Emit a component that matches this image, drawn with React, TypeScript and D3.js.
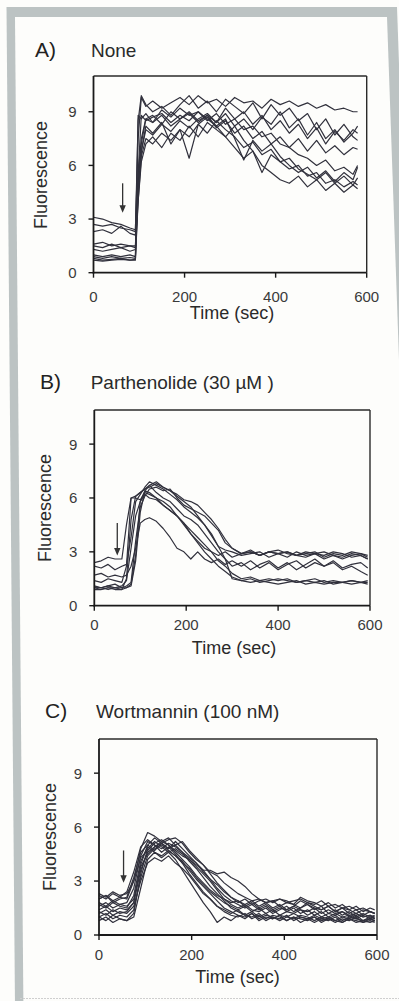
import React from "react";
import * as d3 from "d3";

// ---------- data ----------
const timesA = [0, 20, 40, 60, 80, 92, 98, 105, 115, 130, 150, 170, 190, 210, 230, 250, 270, 290, 310, 330, 350, 370, 390, 410, 430, 450, 470, 490, 510, 530, 550, 570, 580];
const tracesA = [
  [3.1, 3.0, 2.8, 2.7, 2.5, 2.4, 7.5, 9.8, 9.3, 9.6, 9.2, 9.5, 9.8, 9.4, 9.9, 9.5, 9.7, 9.3, 9.8, 9.5, 9.6, 9.2, 9.7, 9.4, 9.6, 9.3, 9.5, 9.2, 9.4, 9.1, 9.2, 9.0, 9.0],
  [2.7, 2.6, 2.7, 2.5, 2.4, 2.3, 8.5, 9.9, 9.4, 9.0, 9.3, 8.8, 9.4, 9.9, 9.2, 9.6, 9.0, 9.7, 9.3, 8.9, 9.5, 8.6, 9.4, 8.8, 9.2, 8.5, 8.9, 8.0, 8.6, 7.7, 8.3, 7.6, 7.4],
  [2.3, 2.4, 2.2, 2.6, 2.2, 2.1, 5.5, 7.5, 8.6, 8.4, 8.8, 8.2, 8.6, 9.0, 8.5, 8.8, 8.4, 8.9, 8.2, 8.6, 8.0, 8.7, 8.3, 9.0, 8.1, 8.6, 7.7, 8.4, 7.5, 8.0, 7.3, 7.8, 8.2],
  [1.6, 1.7, 1.5, 1.6, 1.5, 1.5, 5.0, 7.2, 8.6, 8.8, 8.3, 9.0, 8.6, 8.9, 8.4, 8.8, 8.1, 8.5, 7.8, 8.2, 7.5, 7.9, 7.2, 7.6, 7.0, 7.5, 6.8, 7.4, 6.7, 7.1, 6.6, 7.0, 6.9],
  [1.5, 1.4, 1.6, 1.4, 1.5, 1.4, 4.5, 6.8, 8.2, 7.8, 8.4, 7.2, 8.0, 6.4, 8.3, 8.7, 8.2, 8.6, 7.5, 6.3, 7.4, 6.8, 7.2, 6.5, 6.0, 5.6, 5.9, 5.3, 5.7, 5.1, 5.6, 5.2, 5.9],
  [1.3, 1.2, 1.3, 1.4, 1.2, 1.3, 4.0, 6.2, 7.2, 7.6, 7.0, 7.8, 7.4, 8.2, 7.6, 8.4, 8.0, 7.6, 8.2, 7.4, 6.8, 5.6, 6.6, 6.2, 5.8, 6.0, 5.4, 5.6, 5.0, 5.2, 4.8, 5.1, 4.9],
  [1.0, 0.9, 1.0, 0.9, 1.0, 0.9, 5.5, 8.8, 8.5, 8.7, 8.9, 8.4, 8.8, 8.5, 9.0, 8.6, 8.2, 7.6, 7.0, 6.4, 6.8, 6.0, 5.6, 5.2, 5.0, 5.4, 4.8, 5.2, 4.6, 5.0, 4.5, 4.9, 4.7],
  [0.9, 0.8, 0.9, 0.8, 0.85, 0.8, 8.8, 8.6, 8.9, 8.4, 9.1, 8.7, 9.2, 8.8, 9.0, 8.5, 8.9, 8.3, 8.6, 8.0, 8.2, 7.6, 7.8, 7.2, 7.0, 6.6, 6.4, 6.0, 6.3, 5.7, 5.9, 5.5, 6.0],
  [0.8, 0.7, 0.75, 0.8, 0.7, 0.75, 4.0, 6.5, 7.5, 7.2, 7.8, 7.4, 8.0, 7.6, 8.3, 7.8, 8.5, 8.0, 7.6, 7.0, 7.3, 6.6, 6.9, 6.2, 6.4, 5.8, 5.5, 5.2, 5.6, 5.0, 5.4, 4.9, 5.3],
  [0.7, 0.65, 0.7, 0.75, 0.7, 0.7, 4.5, 6.8, 8.0, 7.7, 8.3, 7.9, 8.5, 8.1, 8.6, 8.9, 8.4, 9.2, 8.6, 9.0, 8.3, 8.8, 8.0, 8.5, 7.8, 8.3, 7.5, 8.1, 7.2, 7.9, 7.4, 8.0, 7.8],
];

const timesB = [0, 15, 30, 45, 60, 70, 80, 90, 100, 110, 120, 135, 150, 165, 180, 195, 210, 225, 240, 255, 270, 285, 300, 320, 340, 360, 380, 400, 420, 440, 460, 480, 500, 520, 540, 560, 580, 595];
const tracesB = [
  [2.4, 2.5, 2.7, 2.6, 2.6, 4.5, 6.0, 6.0, 5.9, 6.3, 6.2, 6.0, 5.8, 5.5, 5.0, 4.6, 4.0, 3.6, 3.2, 3.0, 2.8, 3.0, 2.7, 2.9, 3.0, 2.8, 3.0, 2.9, 2.7, 3.0, 2.8, 2.9, 2.6, 2.8, 2.7, 2.9, 2.8, 2.6],
  [2.2, 2.1, 2.3, 2.0, 2.2, 2.3, 3.8, 5.8, 6.2, 6.6, 6.9, 6.7, 6.5, 6.2, 5.9, 5.5, 5.2, 4.9, 4.5, 3.9, 3.3, 3.1, 3.0, 2.8, 2.9, 3.0, 2.7, 2.9, 3.0, 2.8, 2.7, 2.9, 3.0, 2.8, 2.6, 2.8, 2.9, 2.7],
  [1.7, 1.8, 1.6, 1.7, 1.6, 1.7, 2.2, 3.2, 4.6, 4.8, 4.9, 4.7, 4.3, 3.8, 3.2, 3.0, 2.6, 3.0, 2.6, 2.4, 2.6, 2.3, 2.5, 2.2, 2.5, 2.1, 2.4, 2.0, 2.3, 2.5, 2.1, 2.4, 2.2, 2.5, 2.1, 2.3, 2.4, 2.1],
  [1.4, 1.3, 1.5, 1.4, 1.3, 2.2, 6.0, 6.1, 6.3, 6.5, 6.6, 6.8, 6.6, 6.4, 6.1, 5.8, 5.5, 5.0, 4.5, 4.0, 3.3, 2.6, 1.5, 1.4, 1.5, 1.3, 1.4, 1.5, 1.4, 1.3, 1.4, 1.3, 1.4, 1.2, 1.3, 1.4, 1.3, 1.4],
  [1.1, 1.0, 1.1, 1.2, 1.0, 1.1, 1.3, 3.6, 5.5, 6.1, 6.5, 6.6, 6.4, 6.5, 6.0, 5.6, 5.4, 5.2, 5.0, 4.6, 4.2, 3.5, 3.2, 2.9, 3.0, 2.8, 3.0, 2.9, 3.0, 2.8, 2.9, 3.0, 2.7, 2.9, 2.8, 3.0, 2.9, 2.8],
  [1.0, 1.0, 0.9, 1.0, 1.0, 1.0, 1.1, 2.5, 5.2, 6.4, 6.3, 6.0, 5.6, 5.3, 5.0, 4.5, 4.0, 3.5, 3.0, 2.6, 2.2, 1.9, 1.6, 1.4, 1.3, 1.4, 1.3, 1.2, 1.3, 1.4, 1.2, 1.3, 1.2, 1.3, 1.3, 1.2, 1.3, 1.2],
  [1.0, 0.9, 1.0, 1.0, 0.9, 1.5, 4.8, 6.1, 6.3, 6.5, 6.7, 6.3, 6.0, 5.8, 5.4, 5.0, 4.8, 4.5, 4.0, 3.5, 3.0, 2.6, 2.2, 2.4, 2.0, 2.3, 2.5, 2.1, 2.4, 2.0, 2.3, 2.6, 2.2, 2.4, 2.0, 2.2, 1.9, 1.7],
  [0.9, 0.9, 1.0, 0.9, 0.9, 1.0, 1.2, 2.8, 5.8, 6.4, 6.7, 6.9, 6.6, 6.4, 6.2, 5.9, 5.8, 5.6, 5.2, 4.8, 4.3, 3.7, 3.2, 2.9, 3.1, 2.8, 3.0, 3.1, 2.9, 2.8, 3.0, 2.9, 2.8, 3.0, 2.9, 2.7, 2.8, 2.6],
  [1.05, 1.0, 1.1, 1.0, 1.1, 1.4, 3.2, 5.0, 5.8, 6.2, 6.0, 5.9, 5.6, 5.3, 5.0, 4.6, 4.2, 3.8, 3.4, 3.0, 2.5, 2.2, 1.8, 1.5, 1.6, 1.4, 1.5, 1.4, 1.5, 1.3, 1.4, 1.5, 1.3, 1.4, 1.3, 1.4, 1.3, 1.3],
];

const timesC = [0, 15, 30, 45, 60, 75, 90, 105, 120, 135, 150, 165, 180, 195, 210, 225, 240, 255, 270, 285, 300, 315, 330, 345, 360, 375, 390, 405, 420, 435, 450, 465, 480, 495, 510, 525, 540, 555, 570, 585, 595];
const tracesC = [
  [2.0, 2.2, 1.9, 2.1, 2.0, 3.0, 4.8, 5.7, 5.5, 5.2, 5.0, 4.6, 4.2, 3.8, 3.3, 2.9, 2.5, 2.2, 2.0, 1.8, 1.9, 1.6, 1.8, 1.5, 1.7, 1.4, 1.6, 1.3, 1.5, 1.2, 1.4, 1.1, 1.3, 1.0, 1.2, 1.0, 1.1, 0.9, 1.1, 0.9, 1.0],
  [1.4, 1.6, 1.3, 1.5, 1.4, 1.8, 3.6, 4.6, 4.9, 5.1, 5.3, 5.4, 5.1, 4.6, 4.2, 3.9, 3.5, 3.3, 2.9, 2.6, 2.3, 2.1, 1.9, 2.0, 1.8, 1.9, 2.0, 1.8, 1.9, 2.0, 1.8, 1.7, 1.9, 1.6, 1.7, 1.5, 1.6, 1.4, 1.5, 1.3, 1.2],
  [1.8, 1.6, 1.9, 1.7, 1.8, 2.6, 4.4, 5.2, 5.0, 4.8, 5.1, 4.9, 4.6, 4.3, 4.0, 3.6, 3.6, 3.4, 3.5, 3.2, 3.0, 2.7, 2.3, 2.0, 1.8, 1.9, 1.6, 1.8, 1.7, 1.5, 1.8, 1.6, 1.4, 1.6, 1.3, 1.5, 1.4, 1.2, 1.4, 1.3, 1.2],
  [1.0, 0.8, 1.1, 0.9, 0.8, 1.2, 3.4, 4.8, 5.2, 4.9, 4.6, 4.2, 3.6, 3.0, 2.4, 1.8, 1.3, 0.7, 1.0, 0.8, 1.1, 0.9, 1.2, 0.8, 1.0, 0.9, 1.1, 0.8, 1.0, 0.7, 0.9, 1.0, 0.8, 0.9, 0.7, 0.9, 0.8, 1.0, 0.7, 0.8, 0.7],
  [2.2, 2.0, 2.3, 2.1, 2.4, 3.5, 4.9, 5.3, 5.0, 4.6, 4.9, 4.5, 4.0, 3.7, 3.2, 2.8, 2.4, 2.1, 1.8, 1.6, 1.4, 1.6, 1.3, 1.5, 1.2, 1.4, 1.1, 1.3, 1.2, 1.4, 1.1, 1.3, 1.0, 1.2, 1.1, 1.3, 1.0, 1.2, 1.0, 1.1, 0.9],
  [1.2, 1.4, 1.1, 1.3, 1.2, 1.6, 3.0, 4.0, 4.3, 4.1, 4.4, 4.0, 3.7, 3.3, 2.8, 2.3, 2.0, 1.6, 1.3, 1.1, 1.0, 1.2, 0.9, 1.1, 0.8, 1.0, 0.9, 1.1, 0.8, 1.0, 0.9, 0.7, 0.9, 0.8, 1.0, 0.7, 0.9, 0.8, 0.7, 0.9, 0.8],
  [1.6, 1.8, 1.5, 1.7, 1.6, 2.0, 3.8, 4.5, 4.9, 5.2, 5.4, 5.0, 5.2, 4.7, 4.3, 3.9, 3.4, 2.9, 2.5, 2.1, 1.8, 2.0, 1.7, 1.9, 2.0, 1.8, 2.0, 1.9, 1.7, 2.1, 1.9, 1.8, 1.6, 1.8, 1.5, 1.7, 1.4, 1.6, 1.3, 1.5, 1.4],
  [0.8, 1.0, 0.7, 0.9, 0.8, 1.0, 2.6, 4.2, 4.6, 4.4, 4.7, 4.4, 4.1, 3.6, 3.1, 2.7, 2.3, 1.9, 1.5, 1.3, 1.1, 1.0, 1.2, 0.9, 1.1, 1.0, 0.8, 1.0, 0.9, 1.1, 1.0, 0.8, 1.0, 0.9, 1.1, 0.8, 1.0, 0.9, 0.8, 1.0, 0.9],
  [2.0, 2.2, 1.8, 2.0, 2.1, 3.2, 4.6, 5.0, 4.7, 5.1, 4.8, 5.2, 4.8, 4.4, 4.0, 3.5, 3.1, 2.6, 2.2, 1.9, 1.7, 1.5, 1.7, 1.4, 1.6, 1.3, 1.5, 1.4, 1.6, 1.9, 1.7, 1.5, 1.4, 1.6, 1.3, 1.5, 1.2, 1.4, 1.1, 1.3, 1.2],
  [1.3, 1.1, 1.4, 1.2, 1.3, 1.8, 3.9, 5.0, 5.4, 5.1, 4.8, 5.0, 4.6, 4.1, 3.7, 3.2, 2.7, 2.3, 1.9, 1.5, 1.3, 1.1, 1.3, 1.0, 1.2, 0.9, 1.1, 1.0, 1.2, 1.0, 0.9, 1.1, 0.9, 1.0, 0.8, 1.0, 0.9, 1.1, 0.8, 0.9, 0.8],
  [1.7, 1.5, 1.8, 1.6, 1.5, 2.2, 4.1, 4.9, 4.6, 4.3, 4.6, 4.8, 4.5, 4.2, 3.8, 3.4, 3.0, 2.5, 2.0, 1.7, 1.5, 1.7, 1.4, 1.3, 1.5, 1.2, 1.4, 1.6, 1.3, 1.5, 1.7, 1.4, 1.6, 1.2, 1.4, 1.1, 1.3, 1.0, 1.2, 1.0, 1.1],
  [2.3, 2.1, 2.4, 2.2, 2.3, 3.0, 4.3, 4.7, 5.1, 5.3, 5.0, 4.7, 4.4, 4.2, 3.9, 3.6, 3.1, 2.8, 2.4, 2.1, 1.9, 1.7, 1.9, 1.6, 1.8, 1.5, 1.7, 1.4, 1.6, 1.4, 1.3, 1.5, 1.2, 1.4, 1.2, 1.3, 1.1, 1.2, 1.0, 1.1, 1.0],
  [1.0, 1.2, 0.9, 1.1, 1.0, 1.4, 3.2, 4.4, 4.8, 5.0, 4.7, 4.4, 4.0, 3.4, 2.9, 2.4, 2.0, 1.6, 1.4, 1.2, 1.4, 1.1, 1.0, 1.2, 0.9, 1.1, 1.0, 0.8, 1.0, 0.9, 0.8, 1.0, 0.7, 0.9, 0.8, 0.7, 0.9, 0.7, 0.8, 0.7, 0.8],
];

const xTicks = [0, 200, 400, 600];
const yTicks = [0, 3, 6, 9];
const panelLetters = ["A)", "B)", "C)"];
const panelTitles = ["None", "Parthenolide (30 \u00b5M )", "Wortmannin (100 nM)"];
const arrowTimes = [64, 50, 53];
const arrowTops = [5.0, 4.6, 4.7];
const arrowTips = [3.35, 2.8, 2.9];
const xLabel = "Time (sec)";
const yLabel = "Fluorescence";

// ---------- layout (positions only) ----------
const layouts = [
  { left: 93.5, right: 366.7, top: 76, bottom: 272.7, yMax: 11.0, letterX: 35, titleX: 91, titleY: 57, xTickDy: 29, xLabX: 232, xLabY: 318.5, yLabX: 46.5, yLabY: 175 },
  { left: 94.3, right: 370, top: 410, bottom: 605.7, yMax: 10.9, letterX: 40, titleX: 90.7, titleY: 389, xTickDy: 24.5, xLabX: 234, xLabY: 654, yLabX: 51, yLabY: 508 },
  { left: 99, right: 377, top: 739, bottom: 935, yMax: 10.9, letterX: 45, titleX: 96, titleY: 718, xTickDy: 24.5, xLabX: 237.5, xLabY: 983, yLabX: 56, yLabY: 837 },
];

const panelData = [
  { times: timesA, traces: tracesA },
  { times: timesB, traces: tracesB },
  { times: timesC, traces: tracesC },
];

const FONT = "'Liberation Sans', Arial, Helvetica, sans-serif";
const INK = "#1b1b28";

function Panel({ i }: { i: number }) {
  const L = layouts[i];
  const { times, traces } = panelData[i];
  const x = d3.scaleLinear().domain([0, 600]).range([L.left, L.right]);
  const y = d3.scaleLinear().domain([0, L.yMax]).range([L.bottom, L.top]);
  const line = d3
    .line<number>()
    .defined((_, k) => k < times.length)
    .x((_, k) => x(times[k]))
    .y((d) => y(d));

  const ax = x(arrowTimes[i]);
  const aTop = y(arrowTops[i]);
  const aTip = y(arrowTips[i]);

  return (
    <g>
      <text x={L.letterX} y={L.titleY} fontFamily={FONT} fontSize={21} fill="#222">
        {panelLetters[i]}
      </text>
      <text x={L.titleX} y={L.titleY} fontFamily={FONT} fontSize={19} fill="#2a2a2a">
        {panelTitles[i]}
      </text>

      {/* traces */}
      <g fill="none" stroke={INK} strokeWidth={1.2} strokeLinejoin="round" opacity={0.9}>
        {traces.map((tr, k) => (
          <path key={k} d={line(tr) || ""} />
        ))}
      </g>

      {/* arrow */}
      <line x1={ax} x2={ax} y1={aTop} y2={aTip - 5} stroke="#333" strokeWidth={1.3} />
      <path d={`M${ax - 3.2},${aTip - 7.5}L${ax + 3.2},${aTip - 7.5}L${ax},${aTip}Z`} fill="#333" />

      {/* frame */}
      <line x1={L.left} x2={L.right} y1={L.top} y2={L.top} stroke="#2a2a2a" strokeWidth={1.4} />
      <line x1={L.right} x2={L.right} y1={L.top} y2={L.bottom} stroke="#2a2a2a" strokeWidth={1.4} />
      <line x1={L.left} x2={L.left} y1={L.top} y2={L.bottom + 0.8} stroke="#1a1a1a" strokeWidth={1.8} />
      <line x1={L.left - 0.8} x2={L.right} y1={L.bottom} y2={L.bottom} stroke="#1a1a1a" strokeWidth={1.8} />

      {/* y ticks */}
      {yTicks.map((t) => (
        <g key={"y" + t}>
          <line x1={L.left - 5} x2={L.left} y1={y(t)} y2={y(t)} stroke="#1a1a1a" strokeWidth={1.4} />
          <text x={L.left - 17} y={y(t) + 5.4} textAnchor="end" fontFamily={FONT} fontSize={15} fill="#3a3a3a">
            {t}
          </text>
        </g>
      ))}

      {/* x ticks */}
      {xTicks.map((t) => (
        <g key={"x" + t}>
          <line x1={x(t)} x2={x(t)} y1={L.bottom} y2={L.bottom + 5} stroke="#1a1a1a" strokeWidth={1.4} />
          <text x={x(t)} y={L.bottom + L.xTickDy} textAnchor="middle" fontFamily={FONT} fontSize={15} fill="#3a3a3a">
            {t}
          </text>
        </g>
      ))}

      <text x={L.xLabX} y={L.xLabY} textAnchor="middle" fontFamily={FONT} fontSize={18} fill="#2a2a2a">
        {xLabel}
      </text>
      <text
        transform={`translate(${L.yLabX},${L.yLabY}) rotate(-90)`}
        textAnchor="middle"
        fontFamily={FONT}
        fontSize={18}
        fill="#2a2a2a"
      >
        {yLabel}
      </text>
    </g>
  );
}

export default function App() {
  const W = 399;
  const H = 1001;
  const outer = `M6.5,7L397,7L${397 + 0.035 * 1000},1007L${6.5 + 0.0085 * 1000},1007Z`;
  const inner = `M15,17L387,17L${387 + 0.035 * 990},1007L${15 + 0.0085 * 990},1007Z`;
  return (
    <svg
      width={W}
      height={H}
      viewBox={`0 0 ${W} ${H}`}
      style={{ position: "absolute", left: 0, top: 0, display: "block" }}
    >
      <rect x={0} y={0} width={W} height={H} fill="#fdfdfb" />
      <path d={outer} fill="#bcc3c3" />
      <path d={inner} fill="#fdfdfb" />
      <line x1={20} x2={W} y1={998.5} y2={998.5} stroke="#cfcfcf" strokeWidth={1.2} strokeDasharray="2,1" />
      {[0, 1, 2].map((i) => (
        <Panel key={i} i={i} />
      ))}
    </svg>
  );
}
